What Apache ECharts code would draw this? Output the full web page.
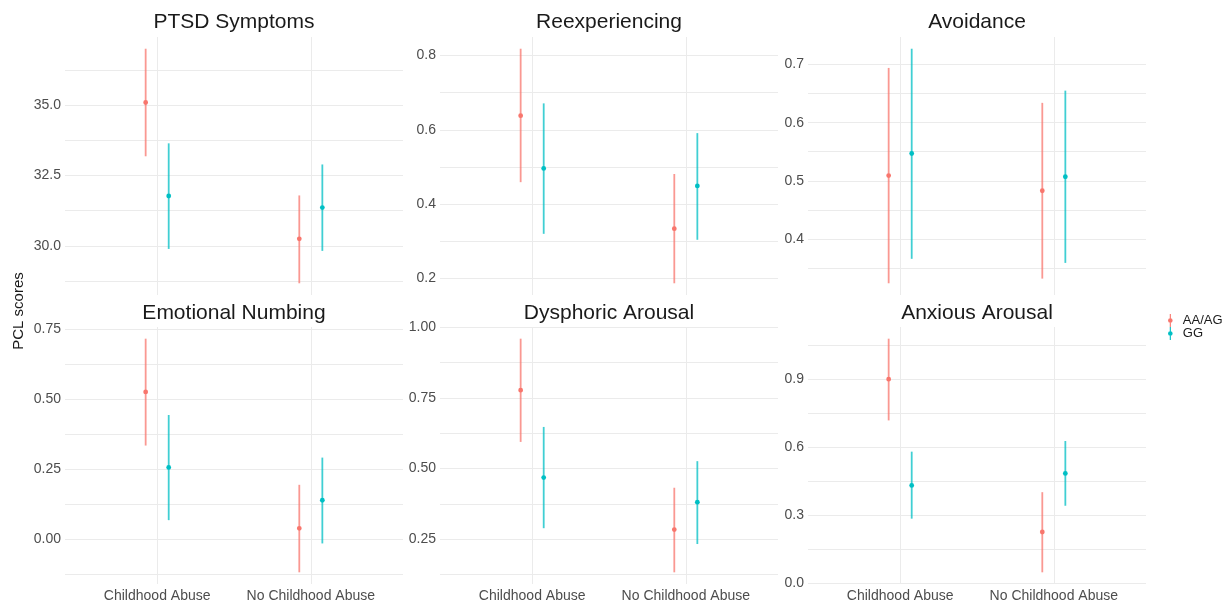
<!DOCTYPE html>
<html>
<head>
<meta charset="utf-8">
<script src="https://cdn.jsdelivr.net/npm/echarts@6/dist/echarts.min.js"></script>
<style>html,body{margin:0;padding:0;background:#fff}#c{width:1228px;height:603px}</style>
</head>
<body>
<div id="c"></div>
<script>
// ---- data (mean, lower, upper) per category ----
const categories = ['Childhood Abuse', 'No Childhood Abuse'];
const groups = ['AA/AG', 'GG'];
const panelTitles = ['PTSD Symptoms', 'Reexperiencing', 'Avoidance', 'Emotional Numbing', 'Dysphoric Arousal', 'Anxious Arousal'];

const ptsdAA  = [[35.09, 33.18, 37.00], [30.25, 28.67, 31.79]];
const ptsdGG  = [[31.77, 29.89, 33.64], [31.36, 29.82, 32.89]];
const reexAA  = [[0.638, 0.459, 0.818], [0.334, 0.187, 0.481]];
const reexGG  = [[0.496, 0.320, 0.671], [0.449, 0.304, 0.591]];
const avoidAA = [[0.509, 0.324, 0.694], [0.483, 0.332, 0.634]];
const avoidGG = [[0.547, 0.366, 0.727], [0.507, 0.359, 0.655]];
const numbAA  = [[0.525, 0.334, 0.715], [0.039, -0.118, 0.194]];
const numbGG  = [[0.256, 0.068, 0.443], [0.139, -0.015, 0.291]];
const dysAA   = [[0.777, 0.594, 0.959], [0.284, 0.133, 0.432]];
const dysGG   = [[0.468, 0.289, 0.647], [0.381, 0.233, 0.526]];
const anxAA   = [[0.900, 0.718, 1.079], [0.225, 0.047, 0.401]];
const anxGG   = [[0.431, 0.284, 0.580], [0.484, 0.341, 0.627]];

// ---- tick labels ----
const ptsdTicks  = [30, 32.5, 35];          const ptsdMinor  = [28.75, 31.25, 33.75, 36.25];
const reexTicks  = [0.2, 0.4, 0.6, 0.8];    const reexMinor  = [0.3, 0.5, 0.7];
const avoidTicks = [0.4, 0.5, 0.6, 0.7];    const avoidMinor = [0.35, 0.45, 0.55, 0.65];
const numbTicks  = [0, 0.25, 0.5, 0.75];    const numbMinor  = [-0.125, 0.125, 0.375, 0.625];
const dysTicks   = [0.25, 0.5, 0.75, 1.0];  const dysMinor   = [0.125, 0.375, 0.625, 0.875];
const anxTicks   = [0, 0.3, 0.6, 0.9];      const anxMinor   = [0.15, 0.45, 0.75, 1.05];
const tickDecimals = [1, 1, 1, 2, 2, 1];

const panelData  = [[ptsdAA, ptsdGG], [reexAA, reexGG], [avoidAA, avoidGG], [numbAA, numbGG], [dysAA, dysGG], [anxAA, anxGG]];
const panelTicks = [ptsdTicks, reexTicks, avoidTicks, numbTicks, dysTicks, anxTicks];
const panelMinor = [ptsdMinor, reexMinor, avoidMinor, numbMinor, dysMinor, anxMinor];

// ---- styling / layout ----
const colors = ['#F8766D', '#00BFC4'];
const FONT = '"Liberation Sans", Arial, Helvetica, sans-serif';
const colLeft = [65, 440, 808];
const rowTop = [37, 327];
const W = 338, H = 258;
const dodge = [-0.075, 0.075];

const grids = [], xAxes = [], yAxes = [], series = [], graphics = [];

panelData.forEach((pd, i) => {
  const col = i % 3, row = Math.floor(i / 3);
  grids.push({left: colLeft[col], top: rowTop[row], width: W, height: H, containLabel: false});
  // y extent as ggplot: data range expanded 5%
  let lo = Infinity, hi = -Infinity;
  pd.forEach(g => g.forEach(r => { lo = Math.min(lo, r[1]); hi = Math.max(hi, r[2]); }));
  const pad = (hi - lo) * 0.05;
  xAxes.push({
    type: 'value', gridIndex: i, min: -0.6, max: 1.6,
    axisLine: {show: false},
    axisTick: {show: false, customValues: [0, 1]},
    splitLine: {show: true, lineStyle: {color: '#ebebeb', width: 1}},
    axisLabel: {
      show: row === 1, customValues: [0, 1], margin: 5,
      color: '#4d4d4d', fontSize: 14, fontFamily: FONT,
      formatter: v => categories[Math.round(v)]
    }
  });
  const dec = tickDecimals[i];
  yAxes.push({
    type: 'value', gridIndex: i, min: lo - pad, max: hi + pad,
    axisLine: {show: false},
    axisTick: {show: false, customValues: panelTicks[i].concat(panelMinor[i])},
    splitLine: {show: true, lineStyle: {color: '#ebebeb', width: 1}},
    axisLabel: {
      customValues: panelTicks[i], margin: 4,
      color: '#4d4d4d', fontSize: 14, fontFamily: FONT,
      formatter: v => Number(v).toFixed(dec)
    }
  });
  pd.forEach((g, k) => {
    const off = dodge[k], color = colors[k];
    series.push({
      type: 'custom', name: groups[k], xAxisIndex: i, yAxisIndex: i,
      itemStyle: {color: color},
      data: g.map((r, c) => [c, r[0], r[1], r[2]]),
      clip: false,
      renderItem: function (params, api) {
        const x = api.value(0) + off;
        const p = api.coord([x, api.value(1)]);
        const a = api.coord([x, api.value(2)]);
        const b = api.coord([x, api.value(3)]);
        return {type: 'group', children: [
          {type: 'line', shape: {x1: a[0], y1: a[1], x2: b[0], y2: b[1]},
           style: {stroke: color, lineWidth: 1.8, opacity: 0.75}},
          {type: 'circle', shape: {cx: p[0], cy: p[1], r: 2.4}, style: {fill: color}}
        ]};
      }
    });
  });
  graphics.push({
    type: 'text', x: colLeft[col] + W / 2, y: row === 0 ? 22 : 313,
    style: {text: panelTitles[i], fontSize: 21, fontFamily: FONT, fill: '#1a1a1a', align: 'center', verticalAlign: 'middle'}
  });
});

graphics.push({
  type: 'text', x: 19, y: 311, rotation: Math.PI / 2,
  style: {text: 'PCL scores', fontSize: 15, fontFamily: FONT, fill: '#1a1a1a', align: 'center', verticalAlign: 'middle'}
});

const chart = echarts.init(document.getElementById('c'), null, {renderer: 'canvas'});
chart.setOption({
  animation: false,
  backgroundColor: '#ffffff',
  grid: grids, xAxis: xAxes, yAxis: yAxes, series: series,
  legend: {
    data: groups, orient: 'vertical', left: 1163, top: 309,
    itemWidth: 7, itemHeight: 13, itemGap: 0,
    icon: 'path://M2.4,0 L3.6,0 L3.6,14 L2.4,14 Z M0.5,7 A2.5,2.5 0 1 1 5.5,7 A2.5,2.5 0 1 1 0.5,7 Z',
    textStyle: {fontSize: 13, fontFamily: FONT, color: '#1a1a1a', padding: [0, 0, 0, 4]}
  },
  graphic: graphics
});
</script>
</body>
</html>
